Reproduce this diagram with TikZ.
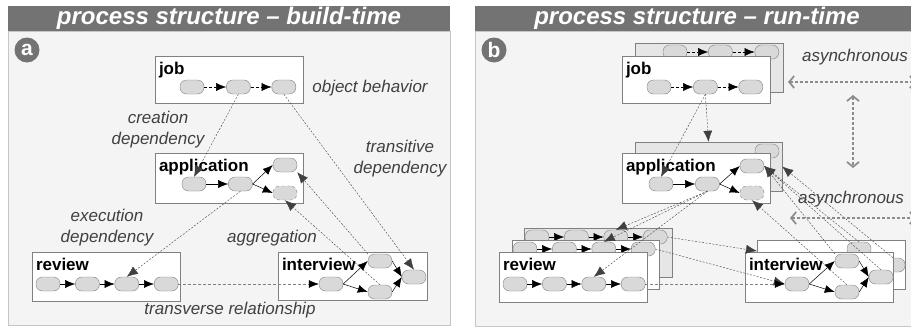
\documentclass[tikz,border=0pt]{standalone}
\usepackage{fontspec}
\setmainfont{Liberation Sans}
\usetikzlibrary{positioning,arrows.meta}
\definecolor{barGray}{RGB}{115,115,115}
\definecolor{bodyGray}{RGB}{244,244,244}
\definecolor{pillGray}{RGB}{217,217,217}
\definecolor{backGray}{RGB}{230,230,230}
\definecolor{lineGray}{RGB}{128,128,128}
\definecolor{textGray}{RGB}{64,64,64}
\definecolor{asyncGray}{RGB}{140,140,140}

\begin{document}
\begin{tikzpicture}[x=1pt,y=-1pt,
  panel/.style={draw=gray!45, fill=bodyGray, inner sep=0pt},
  headbar/.style={fill=barGray, text=white, font=\fontsize{24}{24}\selectfont\bfseries\itshape, minimum height=25pt, inner sep=0pt},
  badge/.style={circle, fill=barGray, text=white, font=\fontsize{21}{21}\selectfont\bfseries, minimum size=25pt, inner sep=0pt},
  procbox/.style={draw=lineGray, fill=white, inner sep=0pt},
  backbox/.style={procbox, fill=backGray},
  boxtitle/.style={anchor=base west, inner sep=0pt, font=\fontsize{17}{17}\selectfont\bfseries},
  pill/.style={draw=lineGray, fill=pillGray, rounded corners=6.5pt, minimum width=24pt, minimum height=14pt, inner sep=0pt},
  lbl/.style={text=textGray, font=\fontsize{17}{21}\selectfont\itshape, align=center},
  flow/.style={-{Latex[length=10pt,width=8pt]}, black, line width=0.5pt},
  dflow/.style={flow, dash pattern=on 3pt off 2pt},
  trans/.style={-{Latex[length=10pt,width=8pt,color=black]}, lineGray, line width=0.5pt, dash pattern=on 3pt off 2pt},
  dep/.style={-{Latex[length=11pt,width=9pt]}, black!75, line width=0.4pt, dash pattern=on 2pt off 1.5pt},
  async/.style={{Straight Barb[length=5pt,width=12pt]}-{Straight Barb[length=5pt,width=12pt]}, asyncGray, line width=1.7pt, dash pattern=on 3pt off 2pt},
]
\useasboundingbox (0,0) rectangle (911,327);

% panel a: build-time
\node[panel, minimum width=442pt, minimum height=294pt, anchor=north west] (bodya) at (8,31) {};
\node[headbar, minimum width=442pt] (heada) at (229,18.5) {process structure – build-time};
\node[badge] (badgea) at (27,50) {a};

\node[procbox, minimum width=148pt, minimum height=47pt] (joba) at (229,79.5) {};
\node[boxtitle] (jobat) at ([shift={(4,19)}]joba.north west) {job};
\node[pill] (ja1) at (192,87) {};
\node[pill, right=22pt of ja1] (ja2) {};
\node[pill, right=21pt of ja2] (ja3) {};

\node[procbox, minimum width=148pt, minimum height=50pt] (appa) at (229,178) {};
\node[boxtitle] (appat) at ([shift={(4,19)}]appa.north west) {application};
\node[pill] (aa1) at (194,184) {};
\node[pill, right=22pt of aa1] (aa2) {};
\node[pill] (aa3) at (285,165) {};
\node[pill, dashed] (aa4) at (285,193) {};

\node[procbox, minimum width=148pt, minimum height=49pt] (reva) at (106,276.5) {};
\node[boxtitle] (revat) at ([shift={(4,19)}]reva.north west) {review};
\node[pill] (ra1) at (48,284) {};
\node[pill, right=15pt of ra1] (ra2) {};
\node[pill, right=15pt of ra2] (ra3) {};
\node[pill, right=15pt of ra3] (ra4) {};

\node[procbox, minimum width=149pt, minimum height=48pt] (inta) at (352.5,276) {};
\node[boxtitle] (intat) at ([shift={(4,19)}]inta.north west) {interview};
\node[pill] (ia1) at (331,284) {};
\node[pill] (ia2) at (380,261) {};
\node[pill] (ia3) at (380,292) {};
\node[pill] (ia4) at (414,277) {};

\draw[dflow] (ja1) -- (ja2);
\draw[dflow] (ja2) -- (ja3);
\draw[flow] (aa1) -- (aa2);
\draw[flow] (aa2.east) -- (aa3.west);
\draw[flow] (aa2.east) -- (aa4.west);
\draw[flow] (ra1) -- (ra2);
\draw[flow] (ra2) -- (ra3);
\draw[flow] (ra3) -- (ra4);
\draw[flow] (ia1.east) -- (ia2.west);
\draw[flow] (ia1.east) -- (ia3.west);
\draw[flow] (ia2.east) -- (ia4.west);
\draw[flow] (ia3.east) -- (ia4.west);

\draw[dep] (ja2.south) -- (aa1.north);
\draw[dep] (aa2.south) -- (ra3.north);
\draw[dep] (ja3.south) -- (ia4.north);
\draw[dep] (ia2.north west) -- (aa3.south east);
\draw[dep] (ia3.north) -- (aa4.south);
\draw[trans] (ra4.east) -- (ia1.west);

\node[lbl] (objbeh) at (370,88) {object behavior};
\node[lbl] (credep) at (158,129.5) {creation\\dependency};
\node[lbl] (tradep) at (400,158.5) {transitive\\dependency};
\node[lbl] (exedep) at (107,227.5) {execution\\dependency};
\node[lbl] (aggr) at (272,238) {aggregation};
\node[lbl] (trrel) at (230,310) {transverse relationship};

% panel b: run-time
\node[panel, minimum width=444pt, minimum height=295pt, anchor=north west] (bodyb) at (475,31) {};
\node[headbar, minimum width=444pt] (headb) at (697,18.5) {process structure – run-time};
\node[badge] (badgeb) at (494,50) {b};

\node[backbox, minimum width=148pt, minimum height=49pt] (jobbk) at (709,67.5) {};
\node[pill] (jb1) at (675,52) {};
\node[pill, right=21pt of jb1] (jb2) {};
\node[pill, right=22pt of jb2] (jb3) {};
\draw[dflow] (jb1) -- (jb2);
\draw[dflow] (jb2) -- (jb3);
\node[procbox, minimum width=148pt, minimum height=47pt] (jobf) at (696,79.5) {};
\node[boxtitle] (jobft) at ([shift={(4,19)}]jobf.north west) {job};
\node[pill] (jf1) at (659,87) {};
\node[pill, right=22pt of jf1] (jf2) {};
\node[pill, right=21pt of jf2] (jf3) {};

\node[backbox, minimum width=147pt, minimum height=49pt] (appbk) at (708.5,166.5) {};
\node[pill] (ab3) at (767,151) {};
\node[procbox, minimum width=148pt, minimum height=50pt] (appf) at (696,178) {};
\node[boxtitle] (appft) at ([shift={(4,19)}]appf.north west) {application};
\node[pill] (af1) at (661,184) {};
\node[pill, right=22pt of af1] (af2) {};
\node[pill] (af3) at (752,166) {};
\node[pill, dashed] (af4) at (752,193) {};

\node[backbox, minimum width=148pt, minimum height=49pt] (revbk) at (598,252.5) {};
\node[pill] (rb1) at (537,237) {};
\node[pill, right=15pt of rb1] (rb2) {};
\node[pill, right=15pt of rb2] (rb3) {};
\node[pill, right=15pt of rb3] (rb4) {};
\draw[flow] (rb1) -- (rb2);
\draw[flow] (rb2) -- (rb3);
\draw[flow] (rb3) -- (rb4);
\node[procbox, minimum width=147pt, minimum height=49pt] (revmid) at (585.5,264.5) {};
\node[pill] (rm1) at (525,249) {};
\node[pill, right=15pt of rm1] (rm2) {};
\node[pill, right=15pt of rm2] (rm3) {};
\node[pill, right=15pt of rm3] (rm4) {};
\draw[flow] (rm1) -- (rm2);
\draw[flow] (rm2) -- (rm3);
\draw[flow] (rm3) -- (rm4);
\node[procbox, minimum width=148pt, minimum height=50pt] (revf) at (573,277) {};
\node[boxtitle] (revft) at ([shift={(4,19)}]revf.north west) {review};
\node[pill] (rf1) at (515,284) {};
\node[pill, right=15pt of rf1] (rf2) {};
\node[pill, right=15pt of rf2] (rf3) {};
\node[pill, right=15pt of rf3] (rf4) {};

\node[procbox, minimum width=148pt, minimum height=49pt] (intbk) at (831,264.5) {};
\node[pill] (ib2) at (859,249) {};
\node[pill] (ib4) at (893,265) {};
\node[procbox, minimum width=148pt, minimum height=50pt] (intf) at (819,277) {};
\node[boxtitle] (intft) at ([shift={(4,19)}]intf.north west) {interview};
\node[pill] (if1) at (797,284) {};
\node[pill] (if2) at (847,261) {};
\node[pill] (if3) at (847,292) {};
\node[pill] (if4) at (881,277) {};

\draw[dflow] (jf1) -- (jf2);
\draw[dflow] (jf2) -- (jf3);
\draw[flow] (af1) -- (af2);
\draw[flow] (af2.east) -- (af3.west);
\draw[flow] (af2.east) -- (af4.west);
\draw[flow] (rf1) -- (rf2);
\draw[flow] (rf2) -- (rf3);
\draw[flow] (rf3) -- (rf4);
\draw[flow] (if1.east) -- (if2.west);
\draw[flow] (if1.east) -- (if3.west);
\draw[flow] (if2.east) -- (if4.west);
\draw[flow] (if3.east) -- (if4.west);

\coordinate (intin) at (757,251);
\draw[dep] (jf2.south) -- (af1.north);
\draw[dep] (jf2.south) -- (appbk.north);
\draw[dep] (af2.south) -- (rf3.north);
\draw[dep] (af2.south) -- (rm3.north);
\draw[dep] (af2.south) -- (rb3.north);
\draw[dep] (rb4.east) -- (intin);
\draw[dep] (rm4.east) -- (if1.west);
\draw[trans] (rf4.east) -- (if1.west);
\draw[dep] (if2.north west) -- (af3.east);
\draw[dep] (ib2.north) -- (af3.east);
\draw[dep] (if4.north) -- (af3.east);
\draw[dep] (if3.north) -- (af4.south);
\draw[dep] (ib4.north) -- (appbk.east);

\node[lbl] (asyn1) at (855,57) {asynchronous};
\node[lbl] (asyn2) at (851,199) {asynchronous};
\coordinate (as1l) at (788,82);
\coordinate (as1r) at (916,82);
\coordinate (asvt) at (853,95);
\coordinate (asvb) at (853,168);
\coordinate (as2l) at (790,218);
\coordinate (as2r) at (916,218);
\draw[async] (as1l) -- (as1r);
\draw[async] (asvt) -- (asvb);
\draw[async] (as2l) -- (as2r);
\end{tikzpicture}
\end{document}
